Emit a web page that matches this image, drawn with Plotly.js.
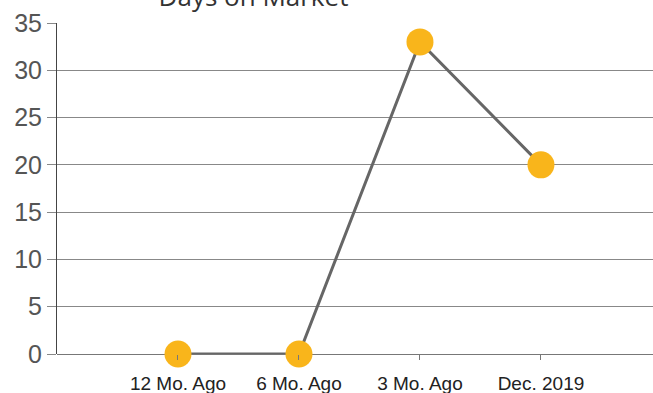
<!DOCTYPE html>
<html>
<head>
<meta charset="utf-8">
<script src="https://cdn.plot.ly/plotly-3.0.1.min.js"></script>
<style>html,body{margin:0;padding:0;background:#fff;}#chart{width:653px;height:393px;}</style>
</head>
<body>
<div id="chart"></div>
<script>
const categories = ["12 Mo. Ago", "6 Mo. Ago", "3 Mo. Ago", "Dec. 2019"];
const daysOnMarket = [0, 0, 33, 20];
const yTicks = [0, 5, 10, 15, 20, 25, 30, 35];

const trace = {
  x: categories,
  y: daysOnMarket,
  type: "scatter",
  mode: "lines+markers",
  line: {color: "#666666", width: 3},
  marker: {color: "#F9B51B", size: 27},
  cliponaxis: false,
  hoverinfo: "skip"
};

const layout = {
  width: 653,
  height: 393,
  margin: {l: 57, r: 0, t: 23, b: 39},
  paper_bgcolor: "#ffffff",
  plot_bgcolor: "#ffffff",
  showlegend: false,
  title: {
    text: "Days on Market",
    font: {family: "Open Sans", size: 26, color: "#333333"},
    xref: "container", yref: "container",
    x: 253.5 / 653, xanchor: "center",
    y: 1 - 6 / 393, yanchor: "bottom"
  },
  xaxis: {
    type: "category",
    categoryorder: "array",
    categoryarray: categories,
    range: [-1, 3.926],
    showgrid: false,
    zeroline: false,
    showline: false,
    ticks: "outside",
    ticklen: 5,
    tickcolor: "#777777",
    tickwidth: 1,
    ticklabelstandoff: 7,
    tickfont: {family: "Liberation Sans", size: 19, color: "#222222"},
    fixedrange: true
  },
  yaxis: {
    range: [0, 35],
    tickvals: yTicks,
    ticktext: yTicks.map(String),
    showgrid: true,
    gridcolor: "#888888",
    gridwidth: 1,
    zeroline: true,
    zerolinecolor: "#777777",
    zerolinewidth: 1,
    showline: true,
    linecolor: "#444444",
    linewidth: 1,
    ticks: "outside",
    ticklen: 9,
    tickcolor: "#888888",
    tickfont: {family: "Liberation Sans", size: 25, color: "#555555"},
    fixedrange: true
  }
};

Plotly.newPlot("chart", [trace], layout, {staticPlot: true, displayModeBar: false});
</script>
</body>
</html>
